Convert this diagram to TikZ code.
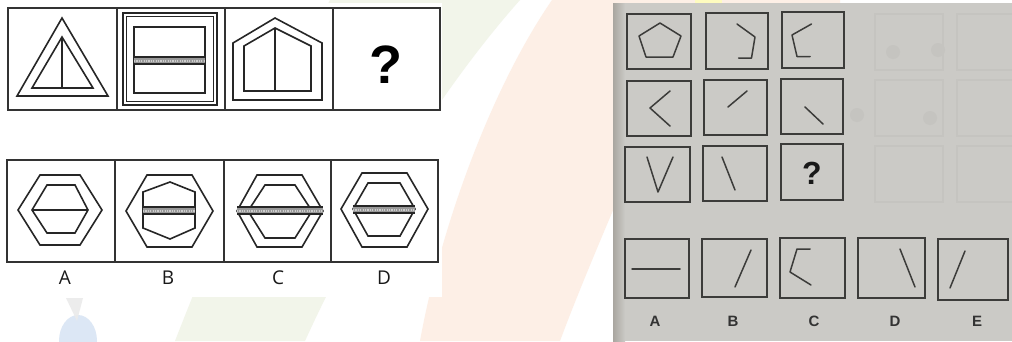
\documentclass[tikz,border=0pt]{standalone}
\usepackage{fontspec}
\setsansfont{Open Sans}
\newfontfamily\arialfont{Liberation Sans}
\usepackage{xcolor}
\usepackage{tikz}

\definecolor{paper}{HTML}{CBCAC6}
\definecolor{paperedge}{HTML}{A9A6A0}
\definecolor{ink}{HTML}{3C3C3A}
\definecolor{peach}{HTML}{FDEFE6}
\definecolor{mint}{HTML}{F2F5EA}
\definecolor{sky}{HTML}{DCE7F5}

\tikzset{
  fig/.style={draw=black!85, line width=1.6pt, line join=miter},
  frame/.style={draw=black!80, line width=1.9pt},
  pbox/.style={draw=ink, line width=1.7pt},
  pen/.style={draw=ink, line width=1.5pt, line cap=round, line join=round},
}

% hatched band: x1, x2, y
\newcommand{\hatchbar}[3]{%
  \fill[black!40] (#1,#3-3.5) rectangle (#2,#3+3.5);
  \draw[black!85, line width=1.2pt] (#1,#3-3.5) -- (#2,#3-3.5) (#1,#3+3.5) -- (#2,#3+3.5);
  \draw[white!80!black, line width=2pt, dash pattern=on 1.2pt off 1.2pt] (#1,#3) -- (#2,#3);
}

\begin{document}
\begin{tikzpicture}[x=1pt, y=-1pt]
\useasboundingbox (0,0) rectangle (1012,341);
\fill[white] (0,0) rectangle (1012,341);

% watermark
\fill[mint] (330,0) -- (520,0) .. controls (440,90) and (360,220) .. (305,341) -- (175,341) .. controls (230,200) and (280,90) .. (330,0) -- cycle;
\fill[peach] (552,0) -- (840,0) -- (840,3) -- (700,3) .. controls (640,150) and (590,260) .. (560,341) -- (420,341) .. controls (440,230) and (490,90) .. (552,0) -- cycle;
\fill[yellow!25] (695,0) rectangle (722,3);
\fill[sky] (78,341) ellipse (19 and 26);
\fill[black!8, opacity=0.9] (66,298) -- (83,298) -- (77,321) -- cycle;

% left sheet
\fill[white] (0,3) rectangle (442,297);

% top row
\foreach \x/\w in {8/109,117/108,225/108,333/107}{
  \draw[frame] (\x,8) rectangle ++(\w,102);
}
\draw[fig] (62,18) -- (17,96) -- (108,96) -- cycle;
\draw[fig] (62,37) -- (32,88) -- (93,88) -- cycle;
\draw[fig] (62,37) -- (62,88);

\draw[fig] (123,13) rectangle (217,105);
\draw[fig, line width=1.2pt] (126.5,16.5) rectangle (213.5,101.5);
\draw[fig] (134,27) rectangle (205,93);
\hatchbar{134}{205}{60.5}

\draw[fig] (275,18) -- (233,43) -- (233,100) -- (322,100) -- (322,43) -- cycle;
\draw[fig] (275,28) -- (244,46) -- (244,91) -- (311,91) -- (311,46) -- cycle;
\draw[fig] (275,28) -- (275,91);

\node[font=\arialfont\bfseries\fontsize{54}{54}\selectfont] (ask1) at (386,65) {?};

% answers
\foreach \x/\w in {7/108,115/109,224/107,331/107}{
  \draw[frame] (\x,160) rectangle ++(\w,102);
}
% A
\draw[fig] (18,210) -- (40,175) -- (80,175) -- (102,210) -- (80,245) -- (40,245) -- cycle;
\draw[fig] (32,210) -- (47,185) -- (75,185) -- (88,210) -- (75,233) -- (47,233) -- cycle;
\draw[fig, line width=1.3pt] (32,210) -- (88,210);
% B
\draw[fig] (126,211) -- (147,175) -- (192,175) -- (213,211) -- (192,247) -- (147,247) -- cycle;
\draw[fig] (170,182) -- (143,192) -- (143,228) -- (170,239) -- (195,228) -- (195,192) -- cycle;
\hatchbar{143}{195}{210.5}
% C
\draw[fig] (237,211) -- (257,175) -- (302,175) -- (323,211) -- (302,247) -- (257,247) -- cycle;
\draw[fig] (248,211) -- (265,185) -- (295,185) -- (312,211) -- (295,238) -- (265,238) -- cycle;
\hatchbar{237}{323}{210.5}
% D
\draw[fig] (341,209) -- (362,173) -- (407,173) -- (428,209) -- (407,247) -- (362,247) -- cycle;
\draw[fig] (353,209) -- (368,183) -- (400,183) -- (415,209) -- (400,236) -- (368,236) -- cycle;
\hatchbar{353}{415}{209.5}

\foreach \x/\t in {65/A,168/B,278/C,384/D}{
  \node[font=\sffamily\fontsize{19}{19}\selectfont, text=black!90] (lab\t) at (\x,278) {\t};
}

% photo
\fill[paper] (613,3) rectangle (1012,341);
\fill[left color=paperedge, right color=paper] (613,3) rectangle (625,341);
% show-through from the back page
\foreach \x in {875,957}{
  \foreach \y in {14,80,146}{
    \draw[black!3!paper, line width=1.2pt] (\x,\y) rectangle ++(68,56);
  }
}
\foreach \p in {(893,52),(857,115),(938,50),(930,118)}{
  \fill[black!3!paper] \p circle (7);
}

% grid
\draw[pbox] (627,14) rectangle (691,69);
\draw[pbox] (706,13) rectangle (768,69);
\draw[pbox] (782,12) rectangle (844,68);
\draw[pbox] (627,81) rectangle (691,136);
\draw[pbox] (704,80) rectangle (767,135);
\draw[pbox] (781,79) rectangle (843,134);
\draw[pbox] (625,147) rectangle (690,202);
\draw[pbox] (703,146) rectangle (767,201);
\draw[pbox] (781,144) rectangle (843,200);

\draw[pen] (660,23) -- (639,36) -- (646,57) -- (673,57) -- (681,36) -- cycle;
\draw[pen] (737,24) -- (755,37) -- (751.5,58) -- (738.5,58);
\draw[pen] (811.5,24) -- (792,35) -- (797,56.5) -- (810,56.5);
\draw[pen] (670,91) -- (650,108) -- (670,126);
\draw[pen] (728,107) -- (747,91);
\draw[pen] (805,107) -- (823,124);
\draw[pen] (647,157) -- (658,192) -- (673,157);
\draw[pen] (722,157) -- (735,190);
\node[font=\arialfont\bfseries\fontsize{32}{32}\selectfont, text=black!90] (ask2) at (812,173) {?};

% options
\draw[pbox] (625,239) rectangle (689,298);
\draw[pbox] (702,239) rectangle (767,297);
\draw[pbox] (780,238) rectangle (845,298);
\draw[pbox] (858,238) rectangle (925,298);
\draw[pbox] (938,239) rectangle (1008,300);

\draw[pen] (632,269) -- (680,269);
\draw[pen] (735,287) -- (751,250);
\draw[pen] (810,249) -- (797,249) -- (790,272) -- (811,285);
\draw[pen] (900,249) -- (915,287);
\draw[pen] (965,251) -- (950,288);

\foreach \x/\t in {655/A,733/B,814/C,895/D,977/E}{
  \node[font=\arialfont\bfseries\fontsize{15}{15}\selectfont, text=black!80] (opt\t) at (\x,321) {\t};
}
\end{tikzpicture}
\end{document}
